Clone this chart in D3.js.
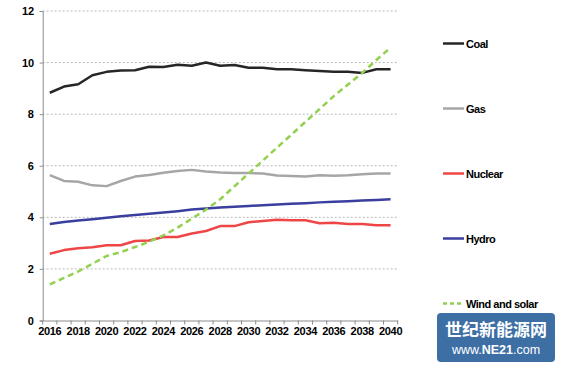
<!DOCTYPE html>
<html><head><meta charset="utf-8">
<script src="https://cdnjs.cloudflare.com/ajax/libs/d3/7.8.5/d3.min.js"></script>
<style>html,body{margin:0;padding:0;background:#fff;}svg{display:block;}</style>
</head><body>
<script>
const years = d3.range(2016, 2041).map(String);
const coal = [8.83,9.07,9.16,9.51,9.64,9.69,9.70,9.84,9.83,9.92,9.88,10.0,9.88,9.91,9.80,9.80,9.74,9.74,9.70,9.67,9.64,9.64,9.60,9.74,9.74];
const gas = [5.64,5.41,5.38,5.24,5.21,5.41,5.58,5.64,5.73,5.80,5.84,5.78,5.74,5.72,5.72,5.70,5.62,5.60,5.58,5.63,5.61,5.63,5.67,5.70,5.70];
const nuclear = [2.59,2.73,2.80,2.84,2.92,2.92,3.08,3.10,3.24,3.24,3.37,3.47,3.66,3.66,3.81,3.86,3.91,3.89,3.89,3.77,3.79,3.74,3.74,3.69,3.69];
const hydro = [3.74,3.82,3.88,3.93,3.98,4.04,4.09,4.14,4.19,4.24,4.30,4.34,4.38,4.41,4.44,4.47,4.50,4.53,4.55,4.58,4.60,4.62,4.65,4.67,4.70];
const windSolar = [1.40,1.65,1.90,2.20,2.50,2.65,2.85,3.05,3.30,3.60,3.95,4.30,4.70,5.20,5.70,6.20,6.70,7.20,7.70,8.20,8.70,9.15,9.60,10.10,10.58];
const yTicks = [0,2,4,6,8,10,12];
const seriesNames = ["Coal","Gas","Nuclear","Hydro","Wind and solar"];
const seriesColors = ["#262626","#a6a6a6","#ee4646","#3a3f9f","#92d050"];

const W = 561, H = 368;
const svg = d3.select("body").append("svg").attr("width", W).attr("height", H);
const x0 = 42.7, x1 = 397.7, yTop = 11, yBot = 320.5;
const x = d3.scaleBand().domain(years).range([x0, x1]).padding(0);
const y = d3.scaleLinear().domain([0, 12]).range([yBot, yTop]);
const font = "'Liberation Sans', Arial, sans-serif";

// gridlines
svg.append("g").selectAll("line").data(yTicks.filter(d => d > 0)).join("line")
  .attr("x1", x0).attr("x2", x1).attr("y1", d => y(d)).attr("y2", d => y(d))
  .attr("stroke", "#b8b8b8").attr("stroke-width", 1).attr("stroke-dasharray", "2,2");

// y axis
const yAxis = svg.append("g").attr("transform", `translate(${x0},0)`)
  .call(d3.axisLeft(y).tickValues(yTicks).tickSize(3).tickPadding(6));
yAxis.select(".domain").attr("stroke", "#8c8c8c");
yAxis.selectAll(".tick line").attr("stroke", "#8c8c8c");
yAxis.selectAll("text").attr("font-family", font).attr("font-size", 11).attr("font-weight", "bold").attr("fill", "#000").attr("letter-spacing", -0.3);

// x axis
const xAxis = svg.append("g").attr("transform", `translate(0,${yBot})`)
  .call(d3.axisBottom(x).tickValues(years.filter((d, i) => i % 2 === 0)).tickSize(0).tickPadding(7));
xAxis.select(".domain").attr("stroke", "#8c8c8c");
xAxis.selectAll("text").attr("font-family", font).attr("font-size", 11).attr("font-weight", "bold").attr("fill", "#000").attr("letter-spacing", -0.3);
// boundary tick marks
svg.append("g").selectAll("line").data(d3.range(years.length + 1)).join("line")
  .attr("x1", i => x0 + i * x.step()).attr("x2", i => x0 + i * x.step())
  .attr("y1", yBot).attr("y2", yBot + 4).attr("stroke", "#8c8c8c");

// lines
const allSeries = [coal, gas, nuclear, hydro, windSolar];
const line = d3.line().x((d, i) => x(years[i]) + x.bandwidth() / 2).y(d => y(d));
allSeries.forEach((s, k) => {
  svg.append("path").datum(s).attr("d", line).attr("fill", "none")
    .attr("stroke", seriesColors[k]).attr("stroke-width", 2.5)
    .attr("stroke-linejoin", "round")
    .attr("stroke-dasharray", k === 4 ? "6,4" : null);
});

// legend
const legendY = [43.5, 108.5, 173.5, 238.5, 303.5];
const lg = svg.append("g");
seriesNames.forEach((n, k) => {
  lg.append("line").attr("x1", 443).attr("x2", 464).attr("y1", legendY[k]).attr("y2", legendY[k])
    .attr("stroke", seriesColors[k]).attr("stroke-width", 2.5)
    .attr("stroke-dasharray", k === 4 ? "4,3" : null);
  lg.append("text").attr("x", 466).attr("y", legendY[k] + 4).text(n)
    .attr("font-family", font).attr("font-size", 11).attr("font-weight", "bold").attr("fill", "#000")
    .attr("letter-spacing", -0.5);
});

// watermark
const wm = svg.append("g");
wm.append("rect").attr("x", 437).attr("y", 313).attr("width", 118).attr("height", 49).attr("rx", 4)
  .attr("fill", "#3d6fa5");
wm.append("text").attr("x", 496).attr("y", 336).attr("text-anchor", "middle")
  .attr("font-family", "'Noto Sans CJK SC', sans-serif").attr("font-size", 17).attr("font-weight", "bold")
  .attr("fill", "#fff").text("世纪新能源网");
const t2 = wm.append("text").attr("x", 496).attr("y", 354).attr("text-anchor", "middle")
  .attr("font-family", font).attr("font-size", 12.5).attr("fill", "#fff");
t2.append("tspan").text("www.");
t2.append("tspan").attr("font-weight", "bold").text("NE21");
t2.append("tspan").text(".com");
</script>
</body></html>
